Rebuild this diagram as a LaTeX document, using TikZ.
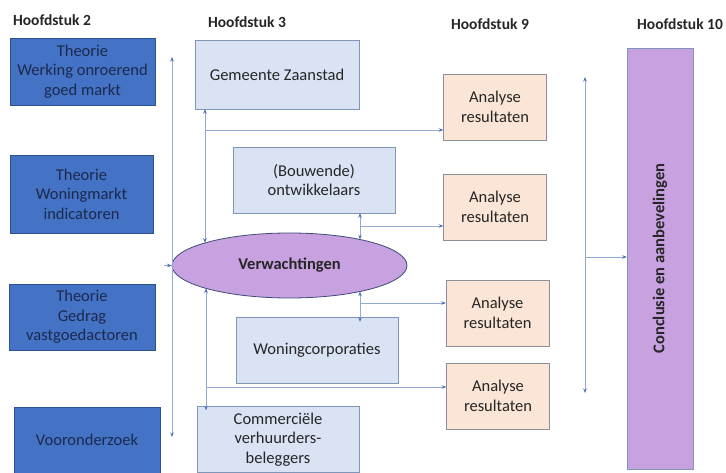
\documentclass[tikz,border=0pt]{standalone}
\usepackage{fontspec}
\setmainfont{Carlito}
\usetikzlibrary{arrows.meta,shapes.geometric}
\definecolor{donkerblauw}{HTML}{4472C4}
\definecolor{randblauw}{HTML}{2F528F}
\definecolor{navytekst}{HTML}{1B2A4E}
\definecolor{lichtblauw}{HTML}{DAE3F3}
\definecolor{randlicht}{HTML}{8096B8}
\definecolor{perzik}{HTML}{FBE5D6}
\definecolor{randperzik}{HTML}{8E8E98}
\definecolor{paars}{HTML}{C8A2E0}
\definecolor{randpaars}{HTML}{3E4B78}
\definecolor{lijnkleur}{HTML}{93A9D2}
\definecolor{pijlkleur}{HTML}{4A6FB5}
\definecolor{zwarttekst}{HTML}{262626}

\tikzset{
  tekst/.style={font=\fontsize{16.5}{19.5}\selectfont, align=center, inner sep=2pt},
  kop/.style={font=\fontsize{15.5}{18}\selectfont\bfseries, text=zwarttekst, inner sep=0pt},
  theorie/.style={tekst, draw=randblauw, fill=donkerblauw, text=navytekst, minimum height=66pt},
  actor/.style={tekst, draw=randlicht, fill=lichtblauw, text=zwarttekst, minimum width=163pt, minimum height=66pt},
  analyse/.style={tekst, draw=randperzik, fill=perzik, text=zwarttekst, minimum width=103pt, minimum height=66pt},
  lijn/.style={draw=lijnkleur, line width=0.8pt, -{Stealth[length=4.5pt,width=3.5pt,color=pijlkleur]}},
  tweezijdig/.style={lijn, {Stealth[length=4.5pt,width=3.5pt,color=pijlkleur]}-{Stealth[length=4.5pt,width=3.5pt,color=pijlkleur]}},
}

\begin{document}
\begin{tikzpicture}[x=1pt,y=-1pt]
    \useasboundingbox (0,0) rectangle (726,473);

    \node[kop] (h2) at (52,20) {Hoofdstuk 2};
    \node[kop] (h3) at (247,22) {Hoofdstuk 3};
    \node[kop] (h9) at (490,24) {Hoofdstuk 9};
    \node[kop] (h10) at (680,24) {Hoofdstuk 10};

    \node[theorie, minimum width=145pt, minimum height=67pt] (werking) at (82.5,71.5) {Theorie\\Werking onroerend\\goed markt};
    \node[theorie, minimum width=143pt, minimum height=78pt] (woningmarkt) at (81.5,194) {Theorie\\Woningmarkt\\indicatoren};
    \node[theorie, minimum width=146pt] (gedrag) at (82,317) {Theorie\\Gedrag\\vastgoedactoren};
    \node[theorie, minimum width=146pt] (vooronderzoek) at (87,440) {Vooronderzoek};

    \node[actor, minimum width=164pt, minimum height=69pt] (gemeente) at (277,74.5) {Gemeente Zaanstad};
    \node[actor, minimum width=162pt] (ontwikkelaars) at (314,180) {(Bouwende)\\ontwikkelaars};
    \node[ellipse, draw=randpaars, fill=paars, line width=0.8pt, minimum width=235pt, minimum height=65pt, font=\fontsize{16.5}{19}\selectfont\bfseries, text=zwarttekst] (verwachtingen) at (289.5,265.5) {Verwachtingen};
    \node[actor, minimum width=162pt] (corporaties) at (317,350) {Woningcorporaties};
    \node[actor, minimum width=162pt] (beleggers) at (278,439.5) {Commerciële\\verhuurders-\\beleggers};

    \node[analyse] (analyse1) at (495,107) {Analyse\\resultaten};
    \node[analyse] (analyse2) at (495,207) {Analyse\\resultaten};
    \node[analyse] (analyse3) at (497.5,313) {Analyse\\resultaten};
    \node[analyse] (analyse4) at (498,396) {Analyse\\resultaten};

    \node[draw=randlicht, fill=paars, minimum width=66pt, minimum height=421pt] (conclusie) at (660,258.5) {};
    \node[rotate=90, font=\fontsize{16.5}{19}\selectfont\bfseries, text=zwarttekst] (conclusietekst) at (conclusie) {Conclusie en aanbevelingen};

    \coordinate (linksboven) at (172,57);
    \coordinate (linksonder) at (172,437);
    \coordinate (linksin) at (164,265.5);
    \coordinate (tak1) at (205,130);
    \coordinate (tak2) at (360,226);
    \coordinate (tak3) at (360,303);
    \coordinate (tak4) at (206,387);
    \coordinate (rechtsboven) at (585,77);
    \coordinate (rechtsonder) at (585,393);
    \coordinate (rechtsmidden) at (585,257);

    \draw[tweezijdig] (linksboven) -- (linksonder);
    \draw[lijn] (linksin) -- (verwachtingen.west);

    \draw[tweezijdig] (tak1 |- gemeente.south) -- (tak1 |- verwachtingen.165);
    \draw[lijn] (tak1) -- (tak1 -| analyse1.west);
    \draw[tweezijdig] (tak2 |- ontwikkelaars.south) -- (tak2 |- verwachtingen.20);
    \draw[lijn] (tak2) -- (tak2 -| analyse2.west);
    \draw[tweezijdig] (tak3 |- verwachtingen.-20) -- ([yshift=-5pt]tak3 |- corporaties.north);
    \draw[lijn] (tak3) -- (tak3 -| analyse3.west);
    \draw[tweezijdig] (tak4 |- verwachtingen.-165) -- ([yshift=-4pt]tak4 |- beleggers.north);
    \draw[lijn] (tak4) -- (tak4 -| analyse4.west);

    \draw[tweezijdig] (rechtsboven) -- (rechtsonder);
    \draw[lijn] (rechtsmidden) -- (rechtsmidden -| conclusie.west);
\end{tikzpicture}
\end{document}
